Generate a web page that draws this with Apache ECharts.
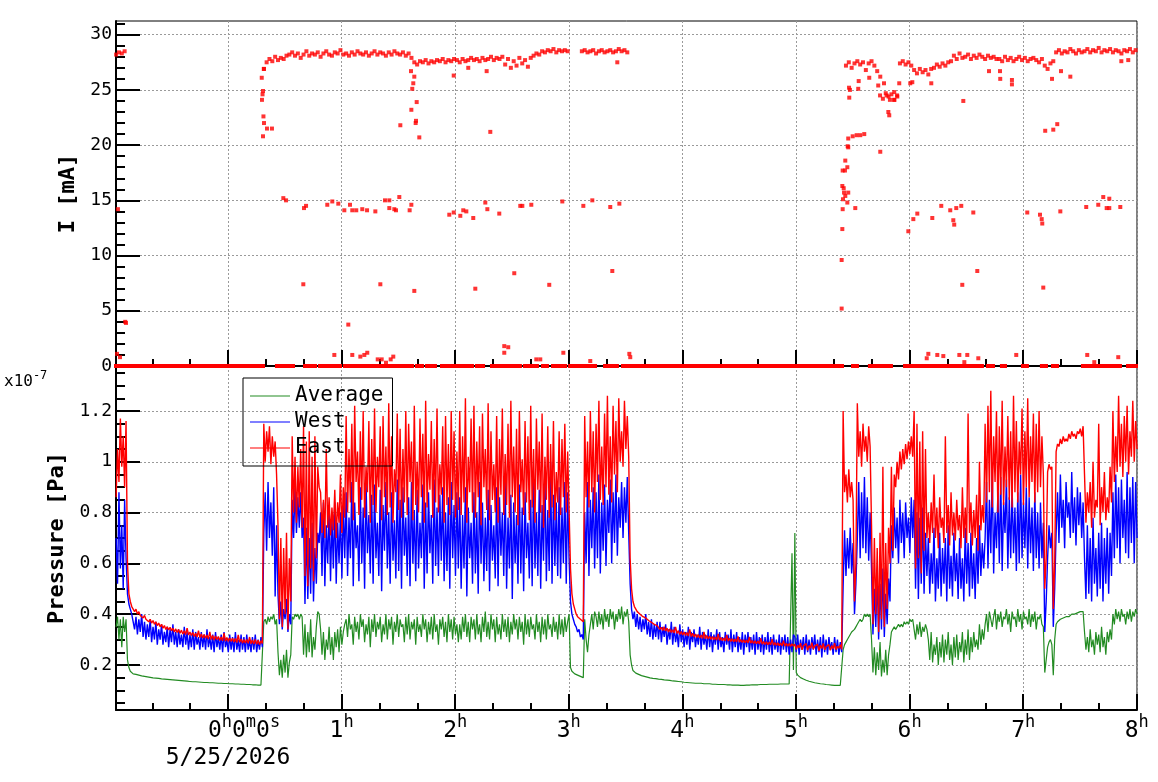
<!DOCTYPE html>
<html>
<head>
<meta charset="utf-8">
<script src="https://cdn.jsdelivr.net/npm/echarts@6/dist/echarts.min.js"></script>
<style>
  html, body { margin: 0; padding: 0; background: #fff; }
  #chart { width: 1158px; height: 782px; }
</style>
</head>
<body>
<div id="chart"></div>
<script>
// time axis in hours from 0h0m0s (5/25/2026)
const XMIN = -0.986;
const XMAX = 8.002;
const P_T0 = -0.985;   // first pressure sample
const P_DT = 0.0125;   // pressure sample step (45 s)
const C_T0 = -0.985;   // first current sample
const C_DT = 0.025;    // current sample step (90 s)

// pressure, units of 1e-7 Pa, one value per sample
const eastP = [
  0.86, 1.05, 0.92, 1.17, 0.98, 1.10, 0.90, 1.16,
  0.60, 0.48, 0.45, 0.43,
  0.425, 0.41, 0.42, 0.40, 0.41, 0.395, 0.40, 0.385, 0.395, 0.38,
  0.385, 0.37, 0.38, 0.365, 0.375, 0.36, 0.37, 0.355, 0.365, 0.35,
  0.36, 0.345, 0.355, 0.34, 0.35, 0.338, 0.348, 0.335, 0.345, 0.33,
  0.342, 0.328, 0.34, 0.325, 0.337, 0.322, 0.335, 0.32, 0.345, 0.318,
  0.33, 0.316, 0.328, 0.312, 0.325, 0.31, 0.335, 0.308, 0.322, 0.306,
  0.32, 0.305, 0.318, 0.302, 0.33, 0.30, 0.316, 0.298, 0.314, 0.30,
  0.312, 0.296, 0.31, 0.295, 0.325, 0.294, 0.308, 0.292, 0.306, 0.293,
  0.305, 0.29, 0.304, 0.288, 0.318, 0.29, 0.302, 0.286, 0.30, 0.287,
  0.30, 0.285, 0.31, 0.284, 0.298, 0.283, 0.30, 0.282, 0.297, 0.28, 0.295, 0.285,
  1.15, 1.00, 1.12, 1.04, 1.14, 0.99, 1.10, 1.02, 1.08, 0.95,
  0.75, 0.38, 0.70, 0.35, 0.66, 0.40, 0.72, 0.34, 0.62, 0.45,
  1.10, 0.80, 1.02, 0.76, 0.98, 0.82, 1.05, 0.74,
  1.14, 0.55, 1.08, 0.51, 1.12, 0.58, 1.02, 0.53, 1.10, 0.62,
  0.98, 0.90,
  0.88, 0.72, 0.85, 0.70, 1.05, 0.74, 0.86, 0.71, 0.82, 0.73, 0.89, 0.70, 0.84, 0.76, 0.95, 0.72, 0.90, 0.78,
  1.18, 0.80, 1.05, 0.84, 1.15, 0.77, 1.22, 0.92, 1.04, 0.79,
  1.12, 0.85, 1.20, 0.78, 0.98, 0.88, 1.16, 0.76, 1.09, 0.83,
  1.21, 0.80, 1.02, 0.90, 1.14, 0.77, 1.18, 0.86, 1.06, 0.79,
  1.23, 0.82, 1.10, 0.76, 0.97, 0.88, 1.19, 0.81, 1.13, 0.78,
  1.05, 0.84, 1.20, 0.79, 1.15, 0.92, 1.08, 0.77, 1.22, 0.83,
  1.00, 0.80, 1.17, 0.86, 1.11, 0.76, 1.24, 0.82, 1.03, 0.89,
  1.16, 0.78, 1.09, 0.84, 1.21, 0.80, 0.99, 0.87, 1.14, 0.76,
  1.18, 0.83, 1.07, 0.79, 1.20, 0.85, 1.12, 0.78, 1.04, 0.81,
  1.20, 0.79, 1.10, 0.84, 1.25, 0.76, 1.02, 0.88, 1.17, 0.80,
  1.22, 0.78, 1.08, 0.86, 1.14, 0.75, 1.19, 0.90, 1.05, 0.81,
  1.23, 0.77, 1.12, 0.85, 0.99, 0.80, 1.18, 0.76, 1.09, 0.87,
  1.21, 0.79, 1.03, 0.83, 1.15, 0.78, 1.24, 0.86, 1.06, 0.80,
  1.13, 0.75, 1.20, 0.88, 1.01, 0.79, 1.16, 0.84, 1.10, 0.77,
  1.22, 0.82, 1.05, 0.76, 1.17, 0.89, 1.08, 0.80, 1.19, 0.74,
  1.02, 0.85, 1.14, 0.78, 1.07, 0.82, 1.16, 0.77, 0.96, 0.84,
  1.12, 0.79, 1.09, 0.86, 1.15, 0.80, 1.04, 0.81,
  0.58, 0.48, 0.44, 0.42, 0.40, 0.39, 0.385, 0.38, 0.375, 0.37,
  1.18, 0.86, 1.08, 0.82, 1.20, 0.88, 1.12, 0.80, 1.15, 0.92,
  1.24, 0.85, 1.06, 0.83, 1.19, 0.90, 1.26, 0.87, 1.10, 0.84,
  1.22, 0.95, 1.16, 0.88, 1.25, 1.00, 1.12, 0.98, 1.24, 1.05, 1.18, 1.02,
  0.62, 0.50, 0.45, 0.43, 0.42, 0.41, 0.405, 0.40, 0.398, 0.39,
  0.392, 0.385, 0.38, 0.375, 0.372, 0.368, 0.365, 0.36, 0.358, 0.355,
  0.352, 0.34, 0.348, 0.336, 0.35, 0.334, 0.345, 0.33, 0.342, 0.328,
  0.338, 0.326, 0.35, 0.324, 0.335, 0.32, 0.332, 0.318, 0.33, 0.316,
  0.328, 0.314, 0.34, 0.312, 0.325, 0.31, 0.322, 0.308, 0.32, 0.306,
  0.318, 0.304, 0.33, 0.303, 0.316, 0.302, 0.314, 0.30, 0.312, 0.299,
  0.31, 0.298, 0.322, 0.297, 0.308, 0.296, 0.306, 0.295, 0.318, 0.294,
  0.305, 0.293, 0.303, 0.292, 0.302, 0.291, 0.312, 0.29, 0.30, 0.289,
  0.299, 0.288, 0.298, 0.287, 0.31, 0.286, 0.296, 0.285, 0.295, 0.284,
  0.294, 0.283, 0.305, 0.282, 0.292, 0.281, 0.291, 0.28, 0.29, 0.279,
  0.302, 0.278, 0.288, 0.277, 0.287, 0.276, 0.286, 0.275, 0.296, 0.274,
  0.285, 0.274, 0.284, 0.273, 0.283, 0.274,
  0.282, 0.262, 0.278, 0.268, 0.286, 0.26, 0.275, 0.27, 0.284, 0.258,
  0.276, 0.266, 0.288, 0.262, 0.274, 0.268, 0.282, 0.256, 0.278, 0.265,
  0.285, 0.26, 0.272, 0.268, 0.28, 0.258, 0.276, 0.264, 0.286, 0.26,
  0.274, 0.266, 0.28, 0.262,
  1.20, 0.88, 0.95, 0.84, 0.97, 0.86, 0.92, 0.85,
  0.45, 0.60,
  1.23, 1.02, 1.12, 0.98, 1.15, 1.04, 1.10, 1.00, 1.14, 1.06,
  0.75, 0.36, 0.70, 0.40, 0.66, 0.33, 0.72, 0.38, 0.98, 0.35, 0.68, 0.42, 0.74, 0.60,
  0.98, 0.65, 0.95, 0.90, 1.00, 0.93, 1.04, 0.97, 1.05, 0.99, 1.07, 1.01, 1.08, 1.03, 1.10, 1.02,
  1.20, 0.58, 1.15, 0.62, 1.08, 0.56, 1.12, 0.65, 1.05, 0.70,
  0.80, 0.68, 0.84, 0.72, 0.95, 0.70, 0.82, 0.66, 0.86, 0.74,
  0.78, 0.68, 1.10, 0.72, 0.83, 0.67, 0.88, 0.71, 0.80, 0.69,
  0.85, 0.73, 0.79, 0.66, 0.90, 0.70, 0.82, 0.68, 1.19, 0.72,
  0.84, 0.67, 0.81, 0.70, 0.87, 0.65, 1.00, 0.73, 0.83, 0.76,
  1.15, 0.84, 1.22, 0.88, 1.28, 0.82, 1.10, 0.92, 1.20, 0.80,
  1.14, 0.87, 1.24, 0.83, 1.06, 0.90, 1.18, 0.85, 1.12, 0.82,
  1.26, 0.88, 1.16, 0.84, 1.08, 0.95, 1.21, 0.83, 1.12, 0.90,
  1.25, 0.86, 1.10, 0.92, 1.19, 0.84, 1.15, 0.88, 1.20, 0.90,
  1.10, 0.95,
  0.50, 0.62, 0.96, 0.99, 0.97, 0.98, 0.42, 0.60,
  1.04, 1.07, 1.06, 1.09, 1.07, 1.10, 1.08, 1.09, 1.08, 1.11,
  1.09, 1.12, 1.10, 1.11, 1.09, 1.12, 1.11, 1.13, 1.10, 1.14,
  0.95, 0.76, 0.88, 0.80, 0.92, 0.74, 1.00, 0.78, 0.85, 0.82,
  1.15, 0.75, 0.90, 0.80, 0.96, 0.77, 0.86, 0.80, 0.98, 0.84,
  1.20, 0.92, 1.10, 0.96, 1.26, 0.98, 1.15, 0.94, 1.18, 1.00,
  1.22, 0.95, 1.12, 1.02, 1.24, 1.00, 1.16, 1.05
];

const westP = [
  0.70, 0.52, 0.88, 0.58, 0.75, 0.50, 0.85, 0.62,
  0.48, 0.44, 0.42, 0.40,
  0.40, 0.34, 0.39, 0.32, 0.38, 0.33, 0.40, 0.31, 0.37, 0.30,
  0.36, 0.31, 0.38, 0.29, 0.35, 0.30, 0.37, 0.28, 0.34, 0.30,
  0.36, 0.28, 0.33, 0.29, 0.35, 0.27, 0.34, 0.29, 0.36, 0.28,
  0.33, 0.27, 0.34, 0.28, 0.32, 0.27, 0.35, 0.28, 0.33, 0.26,
  0.32, 0.27, 0.34, 0.26, 0.33, 0.28, 0.31, 0.26, 0.33, 0.27,
  0.32, 0.26, 0.34, 0.27, 0.31, 0.26, 0.32, 0.25, 0.33, 0.27,
  0.31, 0.26, 0.32, 0.25, 0.33, 0.27, 0.30, 0.25, 0.32, 0.26,
  0.31, 0.25, 0.33, 0.26, 0.30, 0.25, 0.32, 0.26, 0.31, 0.25,
  0.32, 0.26, 0.30, 0.25, 0.31, 0.26, 0.32, 0.25, 0.30, 0.26, 0.31, 0.27,
  0.72, 0.88, 0.65, 0.92, 0.70, 0.84, 0.63, 0.90, 0.47, 0.75,
  0.48, 0.36, 0.45, 0.34, 0.42, 0.38, 0.46, 0.33, 0.40, 0.36,
  0.85, 0.70, 0.90, 0.72, 0.86, 0.74, 0.88, 0.70,
  0.78, 0.44, 0.74, 0.46, 0.70, 0.48, 0.76, 0.45, 0.66, 0.52,
  0.72, 0.68,
  0.80, 0.55, 0.84, 0.51, 0.75, 0.60, 0.82, 0.53, 0.78, 0.58, 0.84, 0.52, 0.76, 0.60, 0.80, 0.54, 0.83, 0.62,
  0.88, 0.55, 0.78, 0.62, 0.92, 0.51, 0.84, 0.66, 0.75, 0.53,
  0.90, 0.60, 0.82, 0.50, 0.93, 0.64, 0.79, 0.56, 0.87, 0.52,
  0.91, 0.62, 0.76, 0.55, 0.89, 0.49, 0.83, 0.65, 0.92, 0.58,
  0.80, 0.52, 0.88, 0.61, 0.77, 0.54, 0.93, 0.57, 0.85, 0.50,
  0.90, 0.63, 0.78, 0.55, 0.86, 0.51, 0.92, 0.60, 0.81, 0.53,
  0.89, 0.58, 0.76, 0.62, 0.91, 0.50, 0.84, 0.56, 0.88, 0.64,
  0.79, 0.52, 0.93, 0.59, 0.82, 0.55, 0.87, 0.61, 0.90, 0.53,
  0.80, 0.57, 0.86, 0.50, 0.92, 0.62, 0.83, 0.55, 0.88, 0.58,
  0.86, 0.50, 0.79, 0.58, 0.90, 0.47, 0.82, 0.62, 0.76, 0.52,
  0.88, 0.56, 0.80, 0.48, 0.92, 0.60, 0.84, 0.53, 0.78, 0.57,
  0.89, 0.49, 0.83, 0.61, 0.75, 0.54, 0.90, 0.51, 0.86, 0.63,
  0.80, 0.55, 0.92, 0.50, 0.78, 0.58, 0.87, 0.46, 0.84, 0.60,
  0.79, 0.52, 0.91, 0.56, 0.82, 0.49, 0.88, 0.62, 0.76, 0.54,
  0.85, 0.51, 0.93, 0.58, 0.80, 0.55, 0.89, 0.50, 0.83, 0.61,
  0.96, 0.53, 0.81, 0.57, 1.00, 0.52, 0.87, 0.59, 0.84, 0.55,
  0.90, 0.54, 0.82, 0.60, 0.92, 0.52, 0.88, 0.62,
  0.45, 0.40, 0.38, 0.36, 0.35, 0.33, 0.34, 0.31, 0.32, 0.30,
  0.80, 0.60, 0.92, 0.55, 0.85, 0.66, 0.90, 0.58, 0.88, 0.62,
  0.95, 0.56, 0.84, 0.65, 0.91, 0.59, 0.85, 0.72, 0.93, 0.60,
  0.88, 0.68, 0.95, 0.63, 0.86, 0.74, 0.92, 0.70, 0.90, 0.76, 0.94, 0.72,
  0.52, 0.42, 0.38, 0.41, 0.35, 0.40, 0.34, 0.39, 0.33, 0.38,
  0.34, 0.40, 0.32, 0.37, 0.31, 0.38, 0.30, 0.36, 0.31, 0.37,
  0.30, 0.37, 0.29, 0.35, 0.31, 0.36, 0.28, 0.34, 0.30, 0.37,
  0.28, 0.35, 0.29, 0.33, 0.27, 0.36, 0.29, 0.34, 0.27, 0.33,
  0.28, 0.35, 0.26, 0.33, 0.29, 0.34, 0.27, 0.32, 0.28, 0.35,
  0.26, 0.33, 0.28, 0.32, 0.26, 0.34, 0.27, 0.33, 0.25, 0.32,
  0.28, 0.34, 0.26, 0.33, 0.27, 0.31, 0.25, 0.33, 0.28, 0.32,
  0.26, 0.34, 0.25, 0.32, 0.27, 0.33, 0.25, 0.31, 0.26, 0.33,
  0.24, 0.32, 0.27, 0.33, 0.25, 0.31, 0.26, 0.32, 0.24, 0.33,
  0.26, 0.31, 0.25, 0.32, 0.24, 0.31, 0.26, 0.33, 0.25, 0.31,
  0.24, 0.32, 0.26, 0.30, 0.25, 0.32, 0.24, 0.31, 0.26, 0.32,
  0.25, 0.31, 0.24, 0.30, 0.25, 0.32,
  0.31, 0.25, 0.32, 0.24, 0.30, 0.26, 0.31, 0.24, 0.32, 0.25,
  0.30, 0.24, 0.31, 0.26, 0.32, 0.24, 0.30, 0.25, 0.31, 0.23,
  0.32, 0.25, 0.30, 0.24, 0.31, 0.26, 0.29, 0.24, 0.31, 0.25,
  0.30, 0.24, 0.29, 0.25,
  0.51, 0.73, 0.55, 0.70, 0.58, 0.74, 0.56, 0.68,
  0.40, 0.52,
  0.70, 0.92, 0.62, 0.88, 0.66, 0.94, 0.64, 0.86, 0.61, 0.80,
  0.58, 0.32, 0.50, 0.35, 0.55, 0.30, 0.52, 0.34, 0.58, 0.31, 0.48, 0.36, 0.54, 0.45,
  0.75, 0.62, 0.82, 0.66, 0.78, 0.60, 0.85, 0.68, 0.80, 0.62, 0.84, 0.70, 0.78, 0.64, 0.86, 0.70,
  0.85, 0.50, 0.80, 0.46, 0.78, 0.52, 0.82, 0.48, 0.72, 0.55,
  0.70, 0.48, 0.64, 0.52, 0.74, 0.45, 0.62, 0.50, 0.72, 0.47,
  0.66, 0.52, 0.70, 0.45, 0.75, 0.50, 0.63, 0.47, 0.72, 0.53,
  0.64, 0.46, 0.70, 0.50, 0.62, 0.45, 0.74, 0.52, 0.68, 0.47,
  0.72, 0.50, 0.64, 0.46, 0.70, 0.52, 0.75, 0.55, 0.68, 0.58,
  0.70, 0.92, 0.58, 0.85, 0.64, 0.98, 0.56, 0.80, 0.66, 0.88,
  0.60, 0.94, 0.57, 0.84, 0.72, 0.93, 0.58, 0.86, 0.62, 0.90,
  0.64, 0.82, 0.57, 0.88, 0.60, 0.95, 0.62, 0.84, 0.66, 0.90,
  0.58, 0.86, 0.64, 0.82, 0.57, 0.88, 0.62, 0.80, 0.58, 0.84,
  0.62, 0.76,
  0.33, 0.45, 0.62, 0.75, 0.66, 0.72, 0.35, 0.50,
  0.72, 0.88, 0.68, 0.95, 0.74, 0.85, 0.66, 0.92, 0.78, 0.84,
  0.70, 0.96, 0.72, 0.86, 0.67, 0.90, 0.75, 0.88, 0.70, 0.84,
  0.62, 0.46, 0.75, 0.48, 0.70, 0.45, 0.78, 0.52, 0.66, 0.47,
  0.72, 0.50, 0.76, 0.45, 0.70, 0.52, 0.74, 0.48, 0.72, 0.55,
  0.88, 0.62, 0.95, 0.66, 0.90, 0.60, 0.93, 0.70, 0.85, 0.64,
  0.96, 0.62, 0.90, 0.68, 0.94, 0.60, 0.92, 0.70
];

const avgP = [
  0.35, 0.39, 0.30, 0.38, 0.27, 0.39, 0.33, 0.38,
  0.22, 0.19, 0.175, 0.168,
  0.165, 0.162, 0.163, 0.158, 0.16, 0.156, 0.157, 0.153, 0.155, 0.151,
  0.153, 0.149, 0.151, 0.148, 0.149, 0.146, 0.148, 0.145, 0.147, 0.143,
  0.145, 0.142, 0.144, 0.141, 0.143, 0.14, 0.142, 0.139, 0.141, 0.138,
  0.14, 0.137, 0.139, 0.136, 0.138, 0.135, 0.137, 0.134, 0.136, 0.133,
  0.135, 0.133, 0.134, 0.132, 0.134, 0.131, 0.133, 0.13, 0.132, 0.13,
  0.131, 0.129, 0.131, 0.128, 0.13, 0.128, 0.13, 0.127, 0.129, 0.127,
  0.128, 0.126, 0.128, 0.125, 0.127, 0.125, 0.127, 0.124, 0.126, 0.124,
  0.126, 0.123, 0.125, 0.123, 0.125, 0.122, 0.124, 0.122, 0.124, 0.121,
  0.123, 0.121, 0.123, 0.12, 0.122, 0.12, 0.122, 0.12, 0.121, 0.12,
  0.121, 0.12,
  0.37, 0.38, 0.36, 0.39, 0.37, 0.39, 0.38, 0.40, 0.36, 0.38,
  0.25, 0.16, 0.22, 0.15, 0.24, 0.17, 0.26, 0.15, 0.21, 0.24,
  0.39, 0.38, 0.40, 0.39, 0.40, 0.38, 0.40, 0.39,
  0.24, 0.36, 0.23, 0.33, 0.25, 0.38, 0.23, 0.31, 0.26, 0.35,
  0.41, 0.40,
  0.34, 0.24, 0.33, 0.22, 0.30, 0.26, 0.35, 0.24, 0.31, 0.22, 0.33, 0.27, 0.34, 0.25, 0.35, 0.28, 0.33, 0.36,
  0.38, 0.31, 0.40, 0.34, 0.36, 0.28, 0.39, 0.33, 0.37, 0.30,
  0.40, 0.35, 0.38, 0.29, 0.36, 0.32, 0.39, 0.27, 0.38, 0.33,
  0.40, 0.31, 0.37, 0.34, 0.39, 0.29, 0.36, 0.32, 0.40, 0.30,
  0.38, 0.34, 0.39, 0.28, 0.37, 0.33, 0.40, 0.31, 0.38, 0.35,
  0.36, 0.29, 0.39, 0.32, 0.40, 0.30, 0.37, 0.34, 0.38, 0.28,
  0.39, 0.33, 0.36, 0.31, 0.40, 0.34, 0.38, 0.29, 0.37, 0.32,
  0.39, 0.30, 0.40, 0.33, 0.36, 0.28, 0.38, 0.34, 0.39, 0.31,
  0.37, 0.29, 0.40, 0.33, 0.38, 0.30, 0.39, 0.32, 0.36, 0.29,
  0.36, 0.30, 0.39, 0.33, 0.40, 0.31, 0.37, 0.29, 0.39, 0.34,
  0.38, 0.30, 0.40, 0.32, 0.36, 0.29, 0.39, 0.33, 0.41, 0.31,
  0.37, 0.30, 0.40, 0.34, 0.38, 0.29, 0.39, 0.32, 0.36, 0.30,
  0.40, 0.33, 0.38, 0.31, 0.39, 0.29, 0.37, 0.32, 0.40, 0.34,
  0.38, 0.30, 0.39, 0.33, 0.37, 0.28, 0.40, 0.32, 0.38, 0.31,
  0.39, 0.34, 0.36, 0.30, 0.40, 0.33, 0.37, 0.29, 0.39, 0.32,
  0.38, 0.30, 0.40, 0.34, 0.36, 0.31, 0.39, 0.33, 0.37, 0.30,
  0.40, 0.32, 0.38, 0.31, 0.39, 0.33, 0.37, 0.40,
  0.19, 0.175, 0.17, 0.165, 0.162, 0.16, 0.157, 0.155, 0.152, 0.15,
  0.38, 0.30, 0.25, 0.32, 0.36, 0.40, 0.34, 0.41, 0.39, 0.35,
  0.41, 0.36, 0.40, 0.34, 0.42, 0.37, 0.40, 0.35, 0.42, 0.38,
  0.41, 0.34, 0.40, 0.37, 0.42, 0.38, 0.43, 0.36, 0.41, 0.39, 0.42, 0.37,
  0.24, 0.20, 0.178, 0.172, 0.168, 0.165, 0.163, 0.16, 0.158, 0.156,
  0.155, 0.153, 0.152, 0.15, 0.149, 0.148, 0.147, 0.146, 0.146, 0.145,
  0.144, 0.143, 0.143, 0.142, 0.141, 0.141, 0.14, 0.139, 0.139, 0.138,
  0.137, 0.137, 0.136, 0.135, 0.135, 0.134, 0.134, 0.133, 0.132, 0.132,
  0.131, 0.131, 0.13, 0.13, 0.129, 0.129, 0.128, 0.129, 0.128, 0.127,
  0.128, 0.127, 0.126, 0.127, 0.126, 0.125, 0.126, 0.125, 0.124, 0.125,
  0.124, 0.124, 0.123, 0.124, 0.123, 0.122, 0.123, 0.122, 0.122, 0.121,
  0.122, 0.121, 0.121, 0.12, 0.121, 0.12, 0.121, 0.12, 0.12, 0.121,
  0.12, 0.121, 0.121, 0.122, 0.121, 0.122, 0.122, 0.121, 0.122, 0.123,
  0.122, 0.123, 0.123, 0.122, 0.123, 0.124, 0.123, 0.124, 0.124, 0.123,
  0.124, 0.125, 0.124, 0.125, 0.124, 0.125, 0.125, 0.124, 0.125, 0.126,
  0.125, 0.124, 0.125, 0.125, 0.64, 0.18,
  0.72, 0.17, 0.16, 0.155, 0.15, 0.147, 0.145, 0.142, 0.14, 0.138,
  0.136, 0.134, 0.133, 0.131, 0.13, 0.129, 0.128, 0.127, 0.126, 0.125,
  0.125, 0.124, 0.123, 0.123, 0.122, 0.122, 0.121, 0.121, 0.12, 0.121,
  0.12, 0.121, 0.12, 0.12,
  0.26, 0.28, 0.29, 0.30, 0.31, 0.32, 0.33, 0.335,
  0.34, 0.35,
  0.36, 0.37, 0.38, 0.37, 0.38, 0.40, 0.39, 0.40, 0.39, 0.40,
  0.30, 0.17, 0.27, 0.16, 0.25, 0.18, 0.29, 0.155, 0.22, 0.17, 0.26, 0.16, 0.24, 0.28,
  0.33, 0.34, 0.35, 0.34, 0.35, 0.36, 0.35, 0.36, 0.35, 0.37, 0.36, 0.37, 0.36, 0.38, 0.37, 0.38,
  0.38, 0.30, 0.36, 0.32, 0.37, 0.31, 0.35, 0.33, 0.36, 0.34,
  0.30, 0.22, 0.33, 0.21, 0.28, 0.24, 0.31, 0.20, 0.29, 0.23,
  0.32, 0.21, 0.30, 0.24, 0.33, 0.22, 0.28, 0.20, 0.31, 0.23,
  0.32, 0.22, 0.29, 0.25, 0.33, 0.21, 0.30, 0.24, 0.34, 0.22,
  0.31, 0.25, 0.33, 0.27, 0.30, 0.26, 0.36, 0.28, 0.34, 0.30,
  0.36, 0.40, 0.33, 0.41, 0.38, 0.35, 0.39, 0.42, 0.34, 0.40,
  0.37, 0.41, 0.35, 0.39, 0.38, 0.42, 0.36, 0.40, 0.33, 0.41,
  0.38, 0.39, 0.35, 0.42, 0.37, 0.40, 0.34, 0.41, 0.38, 0.39,
  0.36, 0.42, 0.35, 0.40, 0.37, 0.41, 0.34, 0.39, 0.38, 0.40,
  0.36, 0.35,
  0.17, 0.22, 0.27, 0.29, 0.30, 0.28, 0.16, 0.30,
  0.36, 0.37, 0.37, 0.38, 0.38, 0.385, 0.385, 0.39, 0.39, 0.39,
  0.395, 0.40, 0.395, 0.40, 0.40, 0.405, 0.40, 0.41, 0.405, 0.41,
  0.33, 0.26, 0.31, 0.25, 0.34, 0.27, 0.30, 0.24, 0.33, 0.28,
  0.32, 0.25, 0.35, 0.27, 0.31, 0.24, 0.33, 0.29, 0.34, 0.30,
  0.40, 0.36, 0.42, 0.38, 0.41, 0.37, 0.42, 0.39, 0.40, 0.36,
  0.41, 0.38, 0.42, 0.37, 0.41, 0.39, 0.42, 0.40
];

// beam current [mA] while the beam is stored, on the current sample grid
const curRunStart = [0, 52, 164, 257];
const curRun0 = [28.2, 28.4, 28.3, 28.5];
const curRun1 = [
  26.9, 27.5, 27.8, 27.6, 28.0, 27.7, 27.9, 27.8, 28.1,
  28.2, 28.4, 28.1, 28.3, 27.9, 28.2, 28.5, 28.1, 28.3, 28.2,
  28.4, 28.0, 28.3, 28.5, 28.2, 28.1, 28.4, 28.3, 28.6, 28.2,
  28.3, 28.1, 28.4, 28.2, 28.5, 28.3, 28.2, 28.4, 28.1, 28.3,
  28.5, 28.2, 28.4, 28.3, 28.1, 28.4, 28.2, 28.5, 28.3, 28.2,
  28.4, 28.1, 28.3,
  27.9,
  27.5, 27.3, 27.6, 27.5, 27.7, 27.4, 27.6, 27.5, 27.7, 27.6,
  27.8, 27.5, 27.7, 27.6, 27.8, 27.7, 27.5, 27.8, 27.6, 27.7,
  27.9, 27.7, 27.8, 27.6, 27.9, 27.7, 27.8, 28.0, 27.7, 27.9,
  27.8, 28.0,
  27.3, 27.8, 27.0, 27.6, 27.2, 27.9, 27.4, 27.7, 27.1, 27.9, 28.1, 28.3, 28.2,
  28.5, 28.4, 28.6, 28.5, 28.7, 28.4, 28.6, 28.5, 28.6, 28.5
];
const curRun2 = [28.5, 28.6, 28.4, 28.5, 28.6, 28.3, 28.5, 28.6, 28.4, 28.5, 28.6, 28.4, 28.5, 28.7, 28.5, 28.6, 28.4];
const curRun3 = [
  27.2, 27.5, 27.0, 27.4, 27.6, 27.3, 27.5, 26.8, 27.4, 27.6, 27.2, 26.7,
  24.5, 24.2, 24.7, 24.4, 24.6, 24.1, 24.5,
  27.4, 27.6, 27.3, 27.5, 27.2,
  26.8, 26.5, 26.9, 26.6, 26.8, 26.4, 26.9,
  27.0, 27.3, 27.1, 27.4, 27.2, 27.5, 27.6,
  28.1, 27.8, 28.3, 27.9, 28.0, 28.2, 27.8, 28.1, 27.9, 28.2, 28.0, 27.8, 28.1, 27.9, 28.0, 27.8,
  27.8, 27.6, 28.0, 27.7, 27.9, 27.6, 27.8, 28.0, 27.7, 27.9,
  27.6, 27.8, 27.9, 27.7, 27.5, 27.8, 27.2, 26.9, 27.4, 27.6,
  28.4, 28.6, 28.3, 28.5, 28.4, 28.7, 28.5, 28.3, 28.6, 28.4,
  28.5, 28.7, 28.4, 28.6, 28.5, 28.8, 28.4, 28.6, 28.5, 28.7,
  28.4, 28.6, 28.5, 28.3, 28.6, 28.5, 28.7, 28.4, 28.6
];

// stray current readings [hours, mA]
const curStray = [
  [-0.977, 1.1], [-0.969, 14.2], [-0.951, 0.8], [-0.905, 4.0], [-0.898, 3.9],
  [0.297, 26.1], [0.299, 24.1], [0.304, 24.6], [0.308, 24.9], [0.308, 20.8], [0.312, 22.6],
  [0.317, 22.0], [0.317, 26.9], [0.343, 21.5], [0.387, 21.5],
  [0.487, 15.2], [0.511, 15.0], [0.663, 7.4], [0.669, 14.3], [0.687, 14.5], [0.874, 14.6],
  [0.918, 14.9], [0.971, 14.7], [1.024, 14.1], [1.074, 14.6], [1.094, 14.1], [1.129, 14.1],
  [1.182, 14.2], [1.224, 14.1], [1.297, 14.0], [1.382, 15.0], [1.42, 15.0], [1.42, 14.3],
  [1.464, 14.2], [1.479, 14.1], [1.508, 15.3], [1.059, 3.75], [1.341, 7.4],
  [0.936, 1.0], [1.094, 1.0], [1.165, 0.85], [1.2, 1.0], [1.226, 1.2], [1.318, 0.6],
  [1.353, 0.6], [1.391, 0.3], [1.432, 0.6], [1.455, 0.85],
  [1.517, 21.8], [1.684, 20.7], [1.611, 26.7], [1.631, 25.6], [1.622, 25.1], [1.661, 23.9],
  [1.614, 23.2], [1.655, 22.2], [1.652, 22.0], [1.64, 26.2],
  [1.987, 26.3], [2.309, 21.2], [2.277, 26.7], [2.115, 27.0],
  [1.614, 14.6], [1.599, 14.1], [1.948, 13.7], [1.987, 13.9], [2.045, 13.6], [2.071, 14.1],
  [2.098, 14.0], [2.159, 13.4], [2.265, 14.8], [2.283, 14.2], [2.388, 13.8], [2.573, 14.5],
  [2.591, 14.5], [2.67, 14.6], [2.943, 14.9], [3.128, 14.5], [3.207, 15.0], [3.365, 14.4],
  [3.445, 14.7],
  [1.64, 6.8], [2.177, 7.0], [2.52, 8.4], [2.828, 7.35], [3.383, 8.6],
  [2.432, 1.8], [2.467, 1.7], [2.432, 1.2], [2.714, 0.6], [2.749, 0.6], [2.952, 1.2],
  [3.189, 0.45], [3.533, 1.1], [3.541, 0.8], [3.427, 27.5],
  [5.402, 5.2], [5.402, 9.6], [5.408, 12.4], [5.411, 14.2], [5.414, 15.1], [5.452, 14.8],
  [5.423, 15.7], [5.46, 15.7], [5.434, 15.4], [5.408, 16.3], [5.42, 16.1], [5.411, 17.7],
  [5.431, 17.7], [5.434, 18.6], [5.452, 18.0], [5.455, 19.9], [5.46, 19.8], [5.46, 20.6],
  [5.499, 20.8], [5.534, 20.9], [5.566, 20.9], [5.601, 21.0],
  [5.469, 24.3], [5.467, 25.2], [5.475, 25.0], [5.548, 25.1], [5.552, 25.8], [5.645, 26.1],
  [5.724, 25.4], [5.742, 26.2], [5.742, 19.4], [5.775, 25.6], [5.798, 24.5], [5.827, 24.1],
  [5.813, 23.0], [5.821, 22.7], [5.865, 24.8], [5.865, 24.1], [5.892, 24.4], [5.909, 25.6],
  [6.006, 25.6], [6.024, 25.7], [6.191, 25.6], [6.473, 24.0],
  [5.522, 14.3], [5.989, 12.2], [6.033, 13.3], [6.068, 13.8], [6.2, 13.4], [6.279, 14.5],
  [6.358, 14.1], [6.385, 13.2], [6.393, 12.8], [6.411, 14.3], [6.455, 14.5], [6.561, 13.9],
  [7.036, 13.9], [7.148, 13.7], [7.163, 13.3], [7.168, 12.9], [7.327, 14.0], [7.555, 14.4],
  [7.661, 14.6], [7.705, 15.3], [7.758, 15.15], [7.735, 14.3], [7.758, 14.3], [7.855, 14.4],
  [6.596, 8.6], [6.464, 7.35], [7.177, 7.1], [7.194, 21.3], [7.265, 21.4], [7.3, 21.9],
  [6.165, 1.1], [6.151, 0.7], [6.244, 1.0], [6.297, 0.9], [6.438, 1.0], [6.508, 1.0],
  [6.482, 0.35], [6.605, 0.7], [6.939, 1.0], [7.564, 1.0], [7.626, 0.35], [7.837, 0.8],
  [6.699, 26.7], [6.796, 26.7], [6.798, 26.0], [6.901, 25.9], [6.901, 25.5], [7.864, 27.6],
  [7.925, 27.7], [7.254, 26.0], [7.333, 26.7], [7.415, 26.2]
];

// stretches where the current reads 0 [from, to] hours
const zeroRuns = [
  [-0.986, 0.308], [0.431, 0.572], [0.678, 0.766], [0.810, 0.986], [1.030, 1.144],
  [1.162, 1.224], [1.232, 1.312], [1.338, 1.620], [1.664, 1.708], [1.752, 1.822],
  [1.884, 1.954], [1.981, 2.086], [2.113, 2.148], [2.192, 2.245], [2.324, 2.368],
  [2.394, 2.421], [2.438, 2.465], [2.500, 2.570], [2.614, 2.641], [2.658, 2.720],
  [2.773, 2.808], [2.861, 2.967], [3.011, 3.143], [3.160, 3.231], [3.319, 3.380],
  [3.407, 3.424], [3.477, 5.405], [5.502, 5.537], [5.651, 5.836], [5.960, 6.048],
  [6.065, 6.092], [6.118, 6.514], [6.549, 6.637], [6.690, 6.734], [6.813, 6.840],
  [6.998, 7.033], [7.165, 7.201], [7.262, 7.298], [7.526, 7.544], [7.562, 7.738],
  [7.746, 7.852], [7.923, 7.940], [7.966, 7.993]
];

// ticks
const hourTicks = [0, 1, 2, 3, 4, 5, 6, 7, 8];
const hourMinorTicks = [
  -0.6667, -0.3333, 0, 0.3333, 0.6667, 1, 1.3333, 1.6667, 2, 2.3333, 2.6667, 3,
  3.3333, 3.6667, 4, 4.3333, 4.6667, 5, 5.3333, 5.6667, 6, 6.3333, 6.6667, 7,
  7.3333, 7.6667, 8
];
const currentTicks = [0, 5, 10, 15, 20, 25, 30];
const currentMinorTicks = [
  0, 1, 2, 3, 4, 5, 6, 7, 8, 9, 10, 11, 12, 13, 14, 15,
  16, 17, 18, 19, 20, 21, 22, 23, 24, 25, 26, 27, 28, 29, 30, 31
];
const pressureTicks = [0.2, 0.4, 0.6, 0.8, 1.0, 1.2];
const pressureMinorTicks = [
  0.05, 0.1, 0.15, 0.2, 0.25, 0.3, 0.35, 0.4, 0.45, 0.5, 0.55, 0.6, 0.65, 0.7,
  0.75, 0.8, 0.85, 0.9, 0.95, 1.0, 1.05, 1.1, 1.15, 1.2, 1.25, 1.3, 1.35
];

const MONO = '"DejaVu Sans Mono", monospace';
const pts = arr => arr.map((v, i) => [P_T0 + i * P_DT, v]);

const curPts = [];
[curRun0, curRun1, curRun2, curRun3].forEach((run, k) => {
  run.forEach((v, j) => curPts.push([C_T0 + (curRunStart[k] + j) * C_DT, v]));
});
curStray.forEach(p => curPts.push(p));

const zeroPts = [];
zeroRuns.forEach(([a, b]) => { zeroPts.push([a, 0], [b, 0], [b, '-']); });

const tickLine = { color: '#000', width: 2 };
const dotted = { show: true, lineStyle: { color: '#9a9a9a', type: [2, 2], width: 1 } };

function mainX(gridIndex, labels) {
  return {
    gridIndex, type: 'value', position: 'bottom', min: XMIN, max: XMAX,
    axisLine: { show: true, onZero: false, lineStyle: { color: '#000', width: 2 } },
    axisTick: { show: true, inside: true, length: 16, lineStyle: tickLine, customValues: hourTicks },
    axisLabel: {
      show: labels, customValues: hourTicks, margin: 8, color: '#000',
      formatter: v => v === 0
        ? '{z|0}{s|h}{n|0}{s|m}{n|0}{s|s}\n{n|5/25/2026}'
        : '{n|' + v + '}{s|h}',
      rich: {
        n: { fontFamily: MONO, fontSize: 23, lineHeight: 27, color: '#000' },
        z: { fontFamily: MONO, fontSize: 23, lineHeight: 27, color: '#000', padding: [0, 0, 0, 32] },
        s: { fontFamily: MONO, fontSize: 17, lineHeight: 27, color: '#000', padding: [0, 0, 17, 0] }
      }
    },
    splitLine: dotted
  };
}
function minorX(gridIndex) {
  return {
    gridIndex, type: 'value', position: 'bottom', min: XMIN, max: XMAX,
    axisLine: { show: false, onZero: false },
    axisTick: { show: true, inside: true, length: 7, lineStyle: tickLine, customValues: hourMinorTicks },
    axisLabel: { show: false },
    splitLine: { show: false }
  };
}
function mainY(gridIndex, min, max, ticks, name, gap) {
  return {
    gridIndex, type: 'value', position: 'left', min, max,
    name, nameLocation: 'middle', nameRotate: 90, nameGap: gap,
    nameTextStyle: { fontFamily: MONO, fontSize: 22, fontWeight: 'bold', color: '#000' },
    axisLine: { show: true, onZero: false, lineStyle: { color: '#000', width: 2 } },
    axisTick: { show: true, inside: true, length: 24, lineStyle: tickLine, customValues: ticks },
    axisLabel: { customValues: ticks, margin: 4, fontFamily: MONO, fontSize: 18, color: '#000' },
    splitLine: dotted
  };
}
function minorY(gridIndex, min, max, ticks) {
  return {
    gridIndex, type: 'value', position: 'left', min, max,
    axisLine: { show: false, onZero: false },
    axisTick: { show: true, inside: true, length: 9, lineStyle: tickLine, customValues: ticks },
    axisLabel: { show: false },
    splitLine: { show: false }
  };
}

const chart = echarts.init(document.getElementById('chart'), null, { renderer: 'canvas' });
chart.setOption({
  animation: false,
  backgroundColor: '#fff',
  grid: [
    { left: 116, top: 21, right: 21, height: 345, show: true, borderColor: '#000', borderWidth: 1, outerBoundsMode: 'none', containLabel: false },
    { left: 116, top: 366, right: 21, height: 344, show: true, borderColor: '#000', borderWidth: 1, outerBoundsMode: 'none', containLabel: false }
  ],
  xAxis: [mainX(0, false), minorX(0), mainX(1, true), minorX(1)],
  yAxis: [
    mainY(0, 0, 31.24, currentTicks, 'I [mA]', 19),
    minorY(0, 0, 31.24, currentMinorTicks),
    mainY(1, 0.0227, 1.377, pressureTicks, 'Pressure [Pa]', 31),
    minorY(1, 0.0227, 1.377, pressureMinorTicks)
  ],
  legend: {
    left: 243, top: 378, orient: 'vertical',
    data: ['Average', 'West', 'East'],
    icon: 'rect',
    itemWidth: 40, itemHeight: 1.2, itemGap: 2,
    padding: [6, 9, 6, 7],
    borderColor: '#000', borderWidth: 1, borderRadius: 0,
    backgroundColor: 'transparent', selectedMode: false,
    textStyle: { fontFamily: MONO, fontSize: 21, lineHeight: 24, color: '#000' }
  },
  graphic: [{
    type: 'text', left: 4, top: 370, silent: true,
    style: {
      text: '{m|x10}{s|-7}',
      rich: {
        m: { fontFamily: MONO, fontSize: 16, lineHeight: 24, fill: '#000' },
        s: { fontFamily: MONO, fontSize: 12, lineHeight: 24, fill: '#000', padding: [0, 0, 12, 0] }
      }
    }
  }],
  series: [
    {
      type: 'line', xAxisIndex: 0, yAxisIndex: 0, data: zeroPts, symbol: 'none', clip: false,
      lineStyle: { color: '#ff0000', width: 4, cap: 'square' }, silent: true
    },
    {
      type: 'scatter', xAxisIndex: 0, yAxisIndex: 0, data: curPts, symbol: 'rect', symbolSize: 4,
      itemStyle: { color: '#ff0000' }, silent: true
    },
    {
      name: 'Average', type: 'line', xAxisIndex: 2, yAxisIndex: 2, data: pts(avgP), symbol: 'none',
      color: '#228b22', lineStyle: { color: '#228b22', width: 1.2 }, silent: true
    },
    {
      name: 'West', type: 'line', xAxisIndex: 2, yAxisIndex: 2, data: pts(westP), symbol: 'none',
      color: '#0000ff', lineStyle: { color: '#0000ff', width: 1.4 }, silent: true
    },
    {
      name: 'East', type: 'line', xAxisIndex: 2, yAxisIndex: 2, data: pts(eastP), symbol: 'none',
      color: '#ff0000', lineStyle: { color: '#ff0000', width: 1.4 }, silent: true
    }
  ]
});
</script>
</body>
</html>
